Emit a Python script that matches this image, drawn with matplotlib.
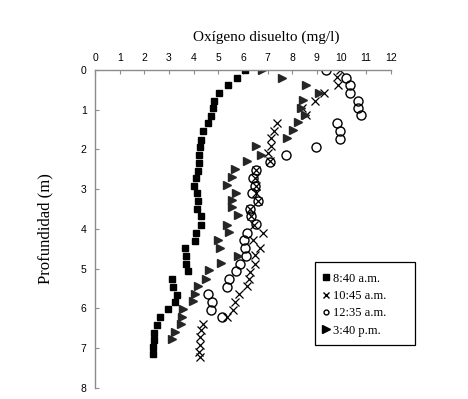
import matplotlib.pyplot as plt
from matplotlib.lines import Line2D
from matplotlib.patches import Rectangle

# 8:40 a.m. (cuadrados)
sq_x = [6.07, 5.76, 5.38, 5.03, 4.81, 4.80, 4.69, 4.57, 4.39, 4.30, 4.27, 4.20, 4.20, 4.18,
        4.08, 4.01, 4.15, 4.19, 4.15, 4.30, 4.30, 4.09, 4.04, 3.65, 3.70, 3.70, 3.76, 3.11,
        3.17, 3.32, 3.23, 2.95, 2.65, 2.51, 2.40, 2.38, 2.36, 2.35]
sq_y = [0.00, 0.20, 0.38, 0.59, 0.78, 0.96, 1.16, 1.34, 1.54, 1.76, 1.94, 2.14, 2.34, 2.53,
        2.72, 2.91, 3.09, 3.30, 3.49, 3.68, 3.89, 4.09, 4.29, 4.49, 4.67, 4.87, 5.06, 5.25,
        5.45, 5.65, 5.83, 6.02, 6.22, 6.42, 6.61, 6.79, 6.97, 7.14]

# 10:45 a.m. (x)
xx_x = [9.96, 9.80, 9.85, 9.30, 8.94, 8.40, 8.56, 7.39, 7.25, 7.14, 7.16, 7.03, 7.09, 6.55,
        6.49, 6.55, 6.55, 6.62, 6.28, 6.32, 6.45, 6.80, 6.39, 6.69, 6.51, 6.49, 6.30, 6.25,
        6.17, 5.83, 5.69, 5.60, 5.35, 4.39, 4.32, 4.26, 4.26, 4.23, 4.26]
xx_y = [0.00, 0.17, 0.39, 0.58, 0.77, 0.96, 1.13, 1.34, 1.53, 1.72, 1.90, 2.08, 2.30, 2.51,
        2.72, 2.91, 3.09, 3.30, 3.49, 3.68, 3.89, 4.09, 4.28, 4.49, 4.66, 4.87, 5.07, 5.25,
        5.44, 5.64, 5.83, 6.03, 6.22, 6.38, 6.55, 6.72, 6.93, 7.10, 7.23]

# 12:35 a.m. (circulos)
ci_x = [9.39, 10.17, 10.36, 10.36, 10.65, 10.69, 10.81, 9.80, 9.96, 9.93, 8.95, 7.76, 7.09,
        6.53, 6.39, 6.49, 6.36, 6.62, 6.27, 6.32, 6.53, 6.15, 6.04, 6.08, 6.12, 5.88, 5.74,
        5.44, 5.36, 4.59, 4.76, 4.70, 5.14]
ci_y = [0.00, 0.19, 0.39, 0.59, 0.77, 0.95, 1.14, 1.34, 1.54, 1.74, 1.93, 2.13, 2.31,
        2.51, 2.72, 2.91, 3.09, 3.30, 3.49, 3.67, 3.88, 4.09, 4.28, 4.47, 4.67, 4.87, 5.06,
        5.26, 5.45, 5.63, 5.83, 6.03, 6.22]

# 3:40 p.m. (triangulos)
tr_x = [6.76, 7.57, 8.58, 9.08, 8.44, 8.35, 8.51, 8.24, 8.04, 7.77, 6.53, 6.72, 6.17, 5.70,
        5.57, 5.36, 5.74, 5.54, 5.54, 5.81, 5.34, 5.43, 5.00, 5.09, 5.81, 5.13, 4.62, 4.50,
        4.19, 4.07, 3.98, 3.55, 3.51, 3.47, 3.24, 3.12]
tr_y = [0.00, 0.19, 0.38, 0.57, 0.76, 0.96, 1.13, 1.31, 1.52, 1.72, 1.92, 2.13, 2.30, 2.49,
        2.68, 2.89, 3.09, 3.28, 3.45, 3.64, 3.89, 4.08, 4.28, 4.47, 4.67, 4.86, 5.04, 5.25,
        5.44, 5.63, 5.82, 6.02, 6.21, 6.40, 6.59, 6.78]

labels = ['8:40 a.m.', '10:45 a.m.', '12:35 a.m.', '3:40 p.m.']

fig = plt.figure(figsize=(4.68, 3.99), dpi=100)
ax = fig.add_axes([0.203, 0.0276, 0.632, 0.797])

ax.plot(sq_x, sq_y, 's', color='black', markersize=4.5, linestyle='none')
ax.plot(xx_x, xx_y, 'x', color='black', markersize=5.5, markeredgewidth=0.9, linestyle='none')
ax.plot(ci_x, ci_y, 'o', markerfacecolor='none', markeredgecolor='black',
        markersize=6.5, markeredgewidth=1.0, linestyle='none')
ax.plot(tr_x, tr_y, '>', color='#262626', markersize=5.5, linestyle='none')

ax.set_xlim(0, 12)
ax.set_ylim(8, 0)
ax.set_xticks(range(0, 13))
ax.set_yticks(range(0, 9))
ax.xaxis.tick_top()
ax.xaxis.set_label_position('top')

for s in ['right', 'bottom']:
    ax.spines[s].set_visible(False)
for s in ['top', 'left']:
    ax.spines[s].set_color('#8c8c8c')
    ax.spines[s].set_linewidth(1.0)

ax.tick_params(direction='in', length=3, color='#8c8c8c', labelsize=7.5,
               labelfontfamily='Liberation Sans')
ax.tick_params(axis='x', pad=5)
ax.tick_params(axis='y', pad=6)

ax.set_xlabel('Oxígeno disuelto (mg/l)', family='Liberation Serif', fontsize=11, labelpad=9)
ax.xaxis.label.set_x(0.578)
ax.set_ylabel('Profundidad (m)', family='Liberation Serif', fontsize=12, labelpad=20)

# marco de la leyenda
ax.add_patch(Rectangle((0.743, 0.135), 0.338, 0.261, transform=ax.transAxes,
                       facecolor='white', edgecolor='black', linewidth=0.9,
                       clip_on=False, zorder=4))

handles = [
    Line2D([], [], marker='s', color='black', linestyle='none', markersize=4),
    Line2D([], [], marker='x', color='black', linestyle='none', markersize=4),
    Line2D([], [], marker='o', markerfacecolor='none', markeredgecolor='black',
           linestyle='none', markersize=3.5),
    Line2D([], [], marker='>', color='black', linestyle='none', markersize=5.5),
]
leg = ax.legend(handles, labels, loc='upper left', bbox_to_anchor=(0.768, 0.362),
                prop={'family': 'Liberation Serif', 'size': 9}, frameon=False,
                handlelength=0.6, handletextpad=0.3, borderpad=0,
                labelspacing=0.42, borderaxespad=0)
leg.set_zorder(5)

fig.savefig('out.png', dpi=100)
